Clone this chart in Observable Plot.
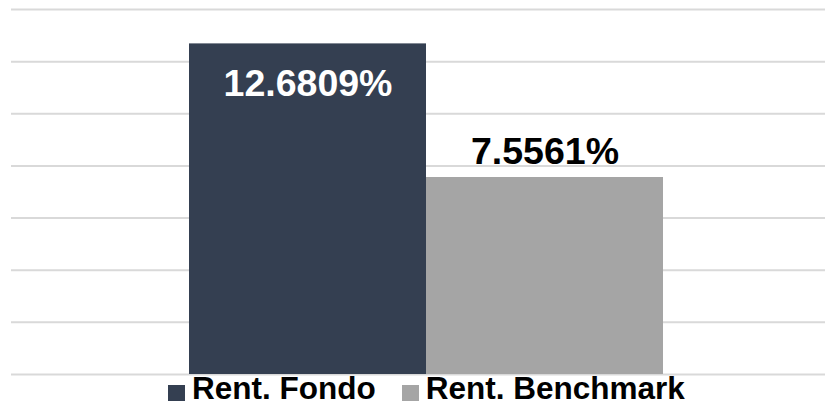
<!DOCTYPE html>
<html>
<head>
<meta charset="utf-8">
<script src="https://cdn.jsdelivr.net/npm/d3@7"></script>
<script src="https://cdn.jsdelivr.net/npm/@observablehq/plot@0.6"></script>
<style>
  html, body { margin: 0; padding: 0; background: #fff; }
  body { width: 825px; height: 406px; overflow: hidden; font-family: "Liberation Sans", Arial, sans-serif; }
  #legend { display: flex; align-items: center; height: 30px; margin-top: -3px; line-height: 30px; font-size: 31.5px; font-weight: bold; color: #000; padding-left: 168px; }
  #legend .item { display: flex; align-items: center; }
  #legend .sw { width: 17px; height: 16px; margin-right: 7px; margin-top: 10px; }
  #legend .gap { width: 26px; }
</style>
</head>
<body>
<div id="chart"></div>
<div id="legend"></div>
<script>
const series = ["Rent. Fondo", "Rent. Benchmark"];
const values = [12.6809, 7.5561];
const colors = ["#343f51", "#a5a5a5"];
const yTicks = [0, 2, 4, 6, 8, 10, 12, 14];

const data = series.map((s, i) => ({series: s, value: values[i]}));
const fmt = v => v.toFixed(4) + "%";

const chart = Plot.plot({
  width: 825,
  height: 376,
  marginTop: 9,
  marginBottom: 2,
  marginLeft: 11,
  marginRight: 0,
  style: {fontFamily: '"Liberation Sans", Arial, sans-serif', background: "#fff"},
  x: {domain: series, range: [189, 663], paddingInner: 0, paddingOuter: 0, axis: null},
  y: {domain: [0, 14], axis: null},
  color: {domain: series, range: colors},
  marks: [
    Plot.ruleY(yTicks, {stroke: "#d9d9d9", strokeWidth: 2}),
    Plot.barY(data, {x: "series", y: "value", fill: "series"}),
    Plot.text(data.filter(d => d.series === series[0]), {
      x: "series", y: "value", text: d => fmt(d.value),
      fill: "#fff", fontSize: 37.5, fontWeight: "bold", lineAnchor: "bottom", dy: 52
    }),
    Plot.text(data.filter(d => d.series === series[1]), {
      x: "series", y: "value", text: d => fmt(d.value),
      fill: "#000", fontSize: 37.5, fontWeight: "bold", lineAnchor: "bottom", dy: -14
    })
  ]
});
document.getElementById("chart").appendChild(chart);

const legend = document.getElementById("legend");
series.forEach((s, i) => {
  if (i > 0) { const g = document.createElement("span"); g.className = "gap"; legend.appendChild(g); }
  const item = document.createElement("span");
  item.className = "item";
  const sw = document.createElement("span");
  sw.className = "sw";
  sw.style.background = colors[i];
  const t = document.createElement("span");
  t.textContent = s;
  item.appendChild(sw);
  item.appendChild(t);
  legend.appendChild(item);
});
</script>
</body>
</html>
